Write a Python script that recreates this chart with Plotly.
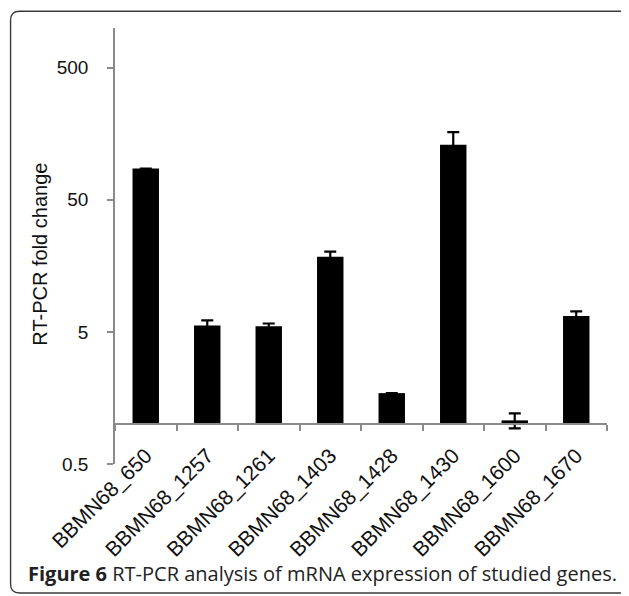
import math
import plotly.graph_objects as go

# ---- data ----
genes = ["BBMN68_650", "BBMN68_1257", "BBMN68_1261", "BBMN68_1403",
         "BBMN68_1428", "BBMN68_1430", "BBMN68_1600", "BBMN68_1670"]
fold_change = [86.3, 5.58, 5.51, 18.56, 1.72, 130.4, 1.07, 6.61]
fold_error = [0.0, 0.54, 0.28, 1.7, 0.0, 32.2, 0.14, 0.55]
y_tick_vals = [0.5, 5, 50, 500]
y_tick_text = ["0.5", "5", "50", "500"]
y_title = "RT-PCR fold change"
caption = "<b>Figure 6</b> RT-PCR analysis of mRNA expression of studied genes."
baseline = 1.0
y_min, y_max = 0.5, 1000

# ---- layout geometry (pixels, in window coordinates) ----
WIN_W, WIN_H = 629, 596
OFF = 8  # default page body margin
W_FIG, H_FIG = WIN_W - OFF, WIN_H - OFF
L, R = 115, 607.3
T, B = 28.3, 464.5
PW, PH = R - L, B - T


def px_x(p):
    return (p - L) / PW


def px_y(p):
    return (B - p) / PH


fig = go.Figure()

fig.add_trace(go.Bar(
    x=genes,
    y=[v - baseline for v in fold_change],
    base=baseline,
    width=0.43,
    marker=dict(color="black", line=dict(width=0)),
    showlegend=False,
))

fig.add_trace(go.Scatter(
    x=genes,
    y=fold_change,
    mode="markers",
    marker=dict(opacity=0, size=1),
    error_y=dict(type="data", array=[e if e > 0 else None for e in fold_error],
                 color="black", thickness=2.2, width=6),
    showlegend=False,
    hoverinfo="skip",
))

base_pos = (math.log10(baseline) - math.log10(y_min)) / (math.log10(y_max) - math.log10(y_min))

fig.update_xaxes(
    type="category",
    range=[-0.5, len(genes) - 0.5],
    anchor="free",
    position=base_pos,
    showline=True, linecolor="#8a8a8a", linewidth=1.6,
    ticks="outside", tickson="boundaries", ticklen=6, tickcolor="#8a8a8a", tickwidth=1.6,
    tickangle=-45,
    tickfont=dict(family="Liberation Sans, Arial", size=21, color="#111"),
    ticklabelstandoff=10,
    showgrid=False, zeroline=False,
)

fig.update_yaxes(
    type="log",
    range=[math.log10(y_min), math.log10(y_max)],
    tickvals=y_tick_vals, ticktext=y_tick_text,
    showline=True, linecolor="#8a8a8a", linewidth=1.6,
    ticks="outside", ticklen=6, tickcolor="#8a8a8a", tickwidth=1.6,
    tickfont=dict(family="Liberation Sans, Arial", size=19, color="#111"),
    ticklabelstandoff=15,
    showgrid=False, zeroline=False,
)

# y-axis title
fig.add_annotation(
    text=y_title, textangle=-90,
    xref="paper", yref="paper", x=px_x(40), y=px_y(255),
    xanchor="center", yanchor="middle", showarrow=False,
    font=dict(family="Liberation Sans, Arial", size=20, color="#111"),
)

# rounded frame
xl, xr, yt, yb, rad = 10.5, 629.5, 11.5, 593.5, 9.0


def P(x, y):
    return f"{px_x(x):.5f},{px_y(y):.5f}"


path = (f"M {P(xl + rad, yt)} L {P(xr - rad, yt)} Q {P(xr, yt)} {P(xr, yt + rad)} "
        f"L {P(xr, yb - rad)} Q {P(xr, yb)} {P(xr - rad, yb)} "
        f"L {P(xl + rad, yb)} Q {P(xl, yb)} {P(xl, yb - rad)} "
        f"L {P(xl, yt + rad)} Q {P(xl, yt)} {P(xl + rad, yt)} Z")

fig.add_shape(type="path", path=path, xref="paper", yref="paper",
              line=dict(color="#3a3a3a", width=1.4), fillcolor="rgba(0,0,0,0)")

fig.add_annotation(
    text=caption,
    xref="paper", yref="paper", x=px_x(26.0), y=px_y(574.5),
    xanchor="left", yanchor="middle", showarrow=False,
    font=dict(family="Open Sans", size=20, color="#222"),
)

fig.update_layout(
    width=W_FIG, height=H_FIG,
    margin=dict(l=L - OFF, r=WIN_W - R, t=T - OFF, b=WIN_H - B, pad=0),
    paper_bgcolor="white", plot_bgcolor="white",
)

fig.write_html("out.html")
